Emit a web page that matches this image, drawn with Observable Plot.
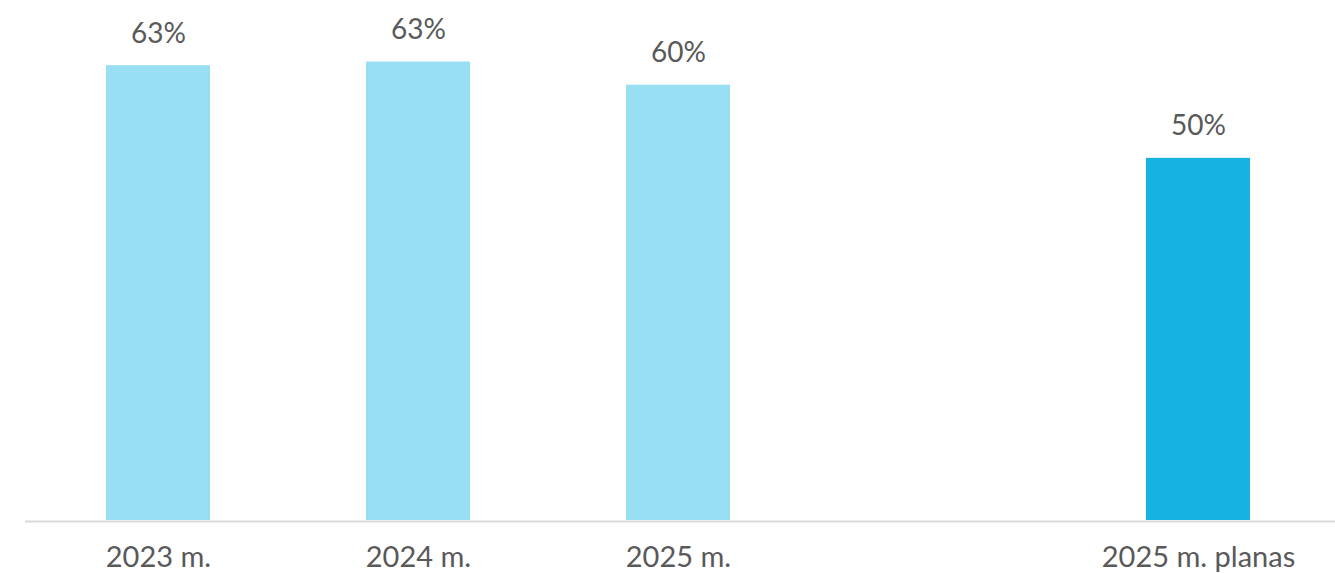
<!DOCTYPE html>
<html>
<head>
<meta charset="utf-8">
<script src="https://cdn.jsdelivr.net/npm/d3@7"></script>
<script src="https://cdn.jsdelivr.net/npm/@observablehq/plot@0.6"></script>
<style>
  html, body { margin: 0; padding: 0; background: #fff; }
  #chart svg { display: block; }
</style>
</head>
<body>
<div id="chart"></div>
<script>
const categories = ["2023 m.", "2024 m.", "2025 m.", " ", "2025 m. planas"];
const values = [62.8, 63.3, 60.1, null, 50];
const labels = ["63%", "63%", "60%", "", "50%"];
const kinds = ["fact", "fact", "fact", "none", "plan"];

const data = categories.map((c, i) => ({cat: c, value: values[i], label: labels[i], kind: kinds[i]}))
  .filter(d => d.value != null);

const chart = Plot.plot({
  width: 1335,
  height: 573,
  marginLeft: 25,
  marginRight: 4,
  marginTop: 13,
  marginBottom: 53,
  style: {fontFamily: "Lato, 'Open Sans', sans-serif", background: "#fff"},
  x: {domain: categories, paddingInner: 0.601, paddingOuter: 0.305, label: null},
  y: {domain: [0, 70], axis: null},
  color: {domain: ["fact", "plan"], range: ["#99dff4", "#16b2e1"]},
  marks: [
    Plot.barY(data, {x: "cat", y: "value", fill: "kind"}),
    Plot.ruleY([0], {stroke: "#d9d9d9", strokeWidth: 2, dy: 1, insetRight: -4}),
    Plot.text(data, {x: "cat", y: "value", text: "label", dy: -32, fontSize: 28, fill: "#595959"}),
    Plot.axisX({tickSize: 0, tickPadding: 26, fontSize: 29, color: "#595959", tickFormat: d => d.trim(), label: null})
  ]
});
document.getElementById("chart").appendChild(chart);
</script>
</body>
</html>
